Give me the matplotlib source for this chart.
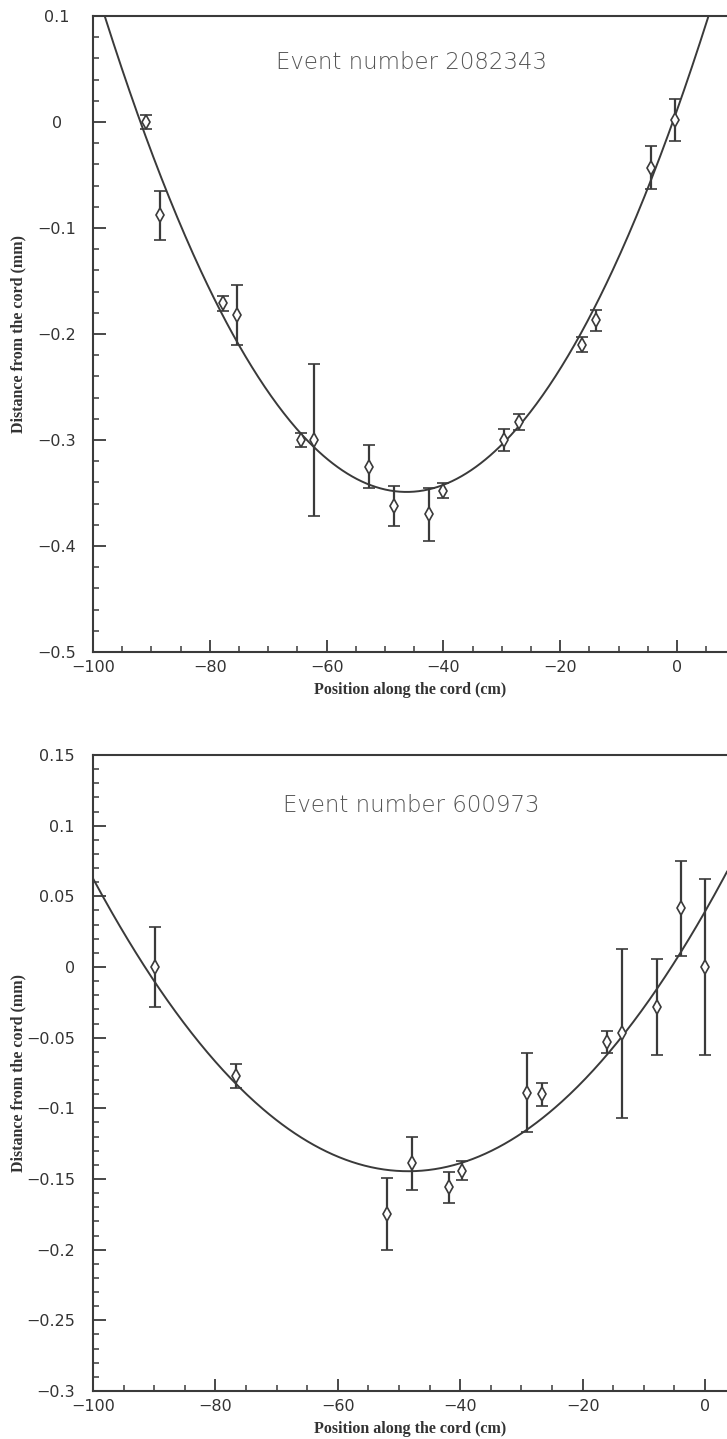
import numpy as np
import matplotlib
matplotlib.use("Agg")
import matplotlib.pyplot as plt
from matplotlib.ticker import MultipleLocator, FuncFormatter

# event 2082343 (top panel)
x1 = [-91.0, -88.5, -77.7, -75.3, -64.3, -62.1, -52.7, -48.5, -42.5, -40.1,
      -29.6, -27.0, -16.3, -13.9, -4.4, -0.4]
y1 = [0.000, -0.088, -0.171, -0.182, -0.300, -0.300, -0.325, -0.362, -0.370, -0.348,
      -0.300, -0.283, -0.210, -0.187, -0.043, 0.002]
e1 = [0.007, 0.023, 0.007, 0.028, 0.007, 0.072, 0.020, 0.019, 0.025, 0.007,
      0.010, 0.0075, 0.007, 0.010, 0.020, 0.020]
# fitted parabola a*(x-x0)^2 + c
fit1 = (0.000168, -46.3, -0.349)

# event 600973 (bottom panel)
x2 = [-89.8, -76.7, -51.9, -47.8, -41.9, -39.7, -29.1, -26.7, -16.0, -13.5,
      -7.8, -4.0, 0.0]
y2 = [0.000, -0.077, -0.175, -0.139, -0.156, -0.144, -0.089, -0.090, -0.053, -0.047,
      -0.028, 0.0415, 0.000]
e2 = [0.0285, 0.0085, 0.0255, 0.0186, 0.011, 0.007, 0.028, 0.008, 0.008, 0.060,
      0.034, 0.0335, 0.062]
fit2 = (7.81e-5, -48.5, -0.1445)

W, H = 727, 1439
fig = plt.figure(figsize=(W / 100, H / 100), dpi=100)
dark = "#3a3a3a"


def fmt(v, pos):
    s = f"{round(v, 3):g}"
    if s == "-0":
        s = "0"
    return s.replace("-", "\u2212")


def panel(rect, xs, ys, es, fit, xmax, ylim, ymaj, ymin, title, title_xy, ycenter):
    ax = fig.add_axes(rect)
    ax.set_xlim(-100, xmax)
    ax.set_ylim(*ylim)
    xx = np.linspace(-100, xmax, 400)
    a, x0, c = fit
    ax.plot(xx, a * (xx - x0) ** 2 + c, color=dark, lw=1.4, zorder=2)
    ax.errorbar(xs, ys, yerr=es, fmt="d", ms=7, mfc="white", mec=dark, mew=1.2,
                ecolor=dark, elinewidth=1.6, capsize=4, capthick=1.6, zorder=3)
    ax.spines["right"].set_visible(False)
    for s in ["left", "bottom", "top"]:
        ax.spines[s].set_linewidth(1.5)
        ax.spines[s].set_color(dark)
    ax.xaxis.set_major_locator(MultipleLocator(20))
    ax.xaxis.set_minor_locator(MultipleLocator(5))
    ax.yaxis.set_major_locator(MultipleLocator(ymaj))
    ax.yaxis.set_minor_locator(MultipleLocator(ymin))
    ax.xaxis.set_major_formatter(FuncFormatter(fmt))
    ax.yaxis.set_major_formatter(FuncFormatter(fmt))
    ax.tick_params(which="both", direction="in", top=False, right=False,
                   color=dark, labelcolor="#333333", labelsize=11.5)
    ax.tick_params(which="major", length=9, width=1.3)
    ax.tick_params(which="minor", length=4.5, width=1.1)
    ax.tick_params(axis="x", pad=6)
    if ycenter:
        ax.tick_params(axis="y", pad=26)
        for t in ax.get_yticklabels():
            t.set_ha("center")
    else:
        ax.tick_params(axis="y", pad=13)
    ax.set_xlabel("Position along the cord (cm)", family="Liberation Serif",
                  weight="bold", fontsize=11.5, color="#333333", labelpad=5)
    ax.set_ylabel("Distance from the cord (mm)", family="Liberation Serif",
                  weight="bold", fontsize=11.5, color="#333333")
    ax.yaxis.set_label_coords(-(93 - 26) / (rect[2] * W), 0.5)
    ax.text(title_xy[0], title_xy[1], title, ha="center", va="center",
            fontsize=16.5, color="#555555", family="DejaVu Sans", weight="light")
    return ax


panel([93 / W, 1 - 652 / H, 1 - 93 / W, 636 / H], x1, y1, e1, fit1,
      -100 + (W - 93) / 5.84, (-0.5, 0.1), 0.1, 0.02,
      "Event number 2082343", (-45.4, 0.0566), True)
panel([93 / W, 1 - 1391 / H, 1 - 93 / W, 636 / H], x2, y2, e2, fit2,
      -100 + (W - 93) / 6.12, (-0.3, 0.15), 0.05, 0.01,
      "Event number 600973", (-48.0, 0.1146), False)

fig.savefig("out.png", dpi=100)
